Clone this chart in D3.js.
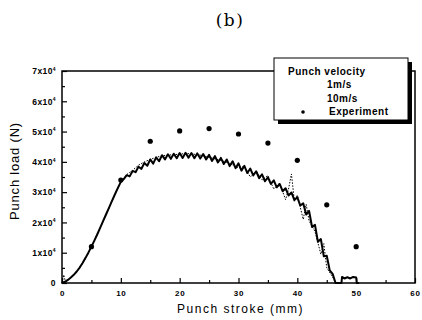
<!DOCTYPE html>
<html>
<head>
<meta charset="utf-8">
<script src="https://cdn.jsdelivr.net/npm/d3@7"></script>
<style>
  body { margin: 0; background: #fff; }
  svg { display: block; }
  text { font-family: "Liberation Sans", Arial, sans-serif; fill: #000; }
</style>
</head>
<body>
<div id="chart"></div>
<script>
// punch stroke (mm) / punch load (N)
const expStroke = [5, 10, 15, 20, 25, 30, 35, 40, 45, 50];
const expLoad = [12000, 34000, 46800, 50200, 51000, 49200, 46200, 40500, 25800, 12000];

const strokeSlow = [0, 0.5, 1, 1.5, 2, 2.5, 3, 3.5, 4, 4.5, 5, 5.5, 6, 6.5, 7, 7.5, 8, 8.5, 9, 9.5,
  10, 10.5, 11, 11.5, 12, 12.5, 13, 13.5, 14, 14.5, 15, 15.5, 16, 16.5, 17, 17.5, 18, 18.5, 19, 19.5,
  20, 20.5, 21, 21.5, 22, 22.5, 23, 23.5, 24, 24.5, 25, 25.5, 26, 26.5, 27, 27.5, 28, 28.5, 29, 29.5,
  30, 30.5, 31, 31.5, 32, 32.5, 33, 33.5, 34, 34.5, 35, 35.5, 36, 36.5, 37, 37.5, 38, 38.5, 39, 39.5,
  40, 40.5, 41, 41.5, 42, 42.5, 43, 43.5, 44, 44.5, 45, 45.5, 46, 46.5, 47, 47.5, 47.6, 48, 48.5, 49,
  49.5, 50, 50.1, 50.5];
const loadSlow = [0, 400, 1000, 1800, 2700, 3800, 5100, 6600, 8300, 10100, 12000, 14000, 16100, 18300, 20500, 22700, 24900, 27100, 29300, 31400,
  33400, 34300, 35600, 35200, 37000, 36600, 38400, 37700, 39600, 38700, 40800, 39400, 41500, 40200, 42200, 40800, 42500, 41000, 42700, 41200,
  42900, 41300, 43000, 41400, 42900, 41200, 42800, 41100, 42600, 40800, 42300, 40300, 41900, 39800, 41300, 39300, 40800, 38600, 40200, 37900,
  39500, 37100, 38700, 36300, 37800, 35500, 36900, 34600, 35900, 33600, 34900, 32700, 33900, 31600, 32700, 30300, 31300, 28900, 29900, 27400,
  28300, 25600, 26300, 22600, 23800, 18500, 19200, 13600, 14500, 8800, 9000, 4200, 3000, 0, 0, 0, 2000, 1500, 1900, 1500,
  2000, 1800, 0, 0];

const strokeFast = [0, 0.3, 0.6, 1, 2, 3, 4, 5, 6, 7, 8, 9, 10, 11, 12, 13, 14, 15, 16, 17, 18, 19, 20, 21, 22, 23, 24, 25,
  26, 27, 28, 29, 30, 31, 32, 33, 34, 35, 36, 37, 38, 38.5, 39, 39.5, 40, 41, 41.5, 42, 43, 44, 44.5, 45, 46, 46.5];
const loadFast = [0, 2700, 300, 900, 2500, 4900, 8100, 11900, 16000, 20400, 24800, 29200, 33300, 35800, 37200, 38900, 40000, 40800, 41500, 42000, 42200, 42400, 42500, 42800, 42600, 42400, 42000, 41500,
  41000, 40500, 39800, 39000, 38000, 38500, 35000, 37000, 34000, 35500, 31000, 33000, 27500, 31000, 36000, 27000, 29000, 21000, 26000, 20500, 17000, 9500, 13000, 5000, 2000, 0];

const xTicks = [0, 10, 20, 30, 40, 50, 60];
const yTicks = [0, 10000, 20000, 30000, 40000, 50000, 60000, 70000];
const legendTitle = "Punch velocity";
const legendLabels = ["1m/s", "10m/s", "Experiment"];

const W = 422, H = 320;
const m = {left: 62, right: 7, top: 71, bottom: 37};

const svg = d3.select("#chart").append("svg").attr("width", W).attr("height", H);

const x = d3.scaleLinear().domain([0, 60]).range([m.left, W - m.right]);
const y = d3.scaleLinear().domain([0, 70000]).range([H - m.bottom, m.top]);

svg.append("text").attr("x", 230).attr("y", 26).attr("text-anchor", "middle")
  .style("font-family", "'DejaVu Serif', 'Liberation Serif', serif").style("font-size", "17px")
  .style("letter-spacing", "1.5px")
  .text("(b)");

// axes (ticks inward)
const gx = svg.append("g").attr("transform", `translate(0,${y(0)})`)
  .call(d3.axisBottom(x).tickValues(xTicks).tickSize(-5).tickPadding(7));
svg.append("g").attr("transform", `translate(0,${y(0)})`)
  .call(d3.axisBottom(x).tickValues(d3.range(5, 60, 10)).tickSize(-3).tickFormat(""));
const gy = svg.append("g").attr("transform", `translate(${x(0)},0)`)
  .call(d3.axisLeft(y).tickValues(yTicks).tickSize(-5).tickPadding(6).tickFormat(""));
svg.append("g").attr("transform", `translate(${x(0)},0)`)
  .call(d3.axisLeft(y).tickValues(d3.range(5000, 70000, 10000)).tickSize(-3).tickFormat(""));
svg.selectAll(".domain").remove();
svg.selectAll(".tick line").attr("stroke", "#000").attr("stroke-width", 1.2);

gx.selectAll(".tick text").style("font-size", "8px").style("font-weight", "bold")
  .style("letter-spacing", "0.7px");
gy.selectAll(".tick text").style("font-size", "8.5px").style("font-weight", "bold")
  .style("letter-spacing", "0.4px")
  .each(function(d) {
    const t = d3.select(this);
    if (d === 0) { t.text("0"); return; }
    t.append("tspan").text(`${d / 10000}x10`);
    t.append("tspan").attr("dy", -3.5).style("font-size", "5px").text("4");
  });

svg.append("rect").attr("x", x(0)).attr("y", y(70000))
  .attr("width", x(60) - x(0)).attr("height", y(0) - y(70000))
  .attr("fill", "none").attr("stroke", "#000").attr("stroke-width", 1.5);

svg.append("text").attr("transform", `translate(19,${(y(0) + y(70000)) / 2 - 6}) rotate(-90)`)
  .attr("text-anchor", "middle").style("font-size", "13px").style("letter-spacing", "0.8px")
  .text("Punch load (N)");
svg.append("text").attr("x", (x(0) + x(60)) / 2 + 2).attr("y", 313)
  .attr("text-anchor", "middle").style("font-size", "12px").style("letter-spacing", "1.5px")
  .text("Punch stroke (mm)");

const line = d3.line().x(d => x(d[0])).y(d => y(d[1]));

svg.append("path").datum(d3.zip(strokeFast, loadFast))
  .attr("d", line).attr("fill", "none").attr("stroke", "#000")
  .attr("stroke-width", 1).attr("stroke-dasharray", "1.5,1.5");
svg.append("path").datum(d3.zip(strokeSlow, loadSlow))
  .attr("d", line).attr("fill", "none").attr("stroke", "#000")
  .attr("stroke-width", 2).attr("stroke-linejoin", "round");

svg.selectAll(".exp").data(d3.zip(expStroke, expLoad)).join("circle")
  .attr("class", "exp").attr("cx", d => x(d[0])).attr("cy", d => y(d[1]))
  .attr("r", 2.6).attr("fill", "#000");

// legend with drop shadow
const lg = svg.append("g").attr("transform", "translate(274,58)");
lg.append("rect").attr("x", 4).attr("y", 4).attr("width", 134).attr("height", 62).attr("fill", "#000");
lg.append("rect").attr("width", 134).attr("height", 62).attr("fill", "#fff")
  .attr("stroke", "#000").attr("stroke-width", 1);
lg.append("text").attr("x", 14).attr("y", 17).style("font-size", "10px").style("font-weight", "bold")
  .style("letter-spacing", "0.5px").text(legendTitle);
lg.selectAll(".lab").data(legendLabels).join("text").attr("class", "lab")
  .attr("x", (d, i) => i < 2 ? 53 : 55).attr("y", (d, i) => 30 + i * 13.5)
  .style("font-size", "10px").style("font-weight", "bold").style("letter-spacing", "0.5px")
  .text(d => d);
lg.append("circle").attr("cx", 29).attr("cy", 54).attr("r", 1.8).attr("fill", "#000");
</script>
</body>
</html>
